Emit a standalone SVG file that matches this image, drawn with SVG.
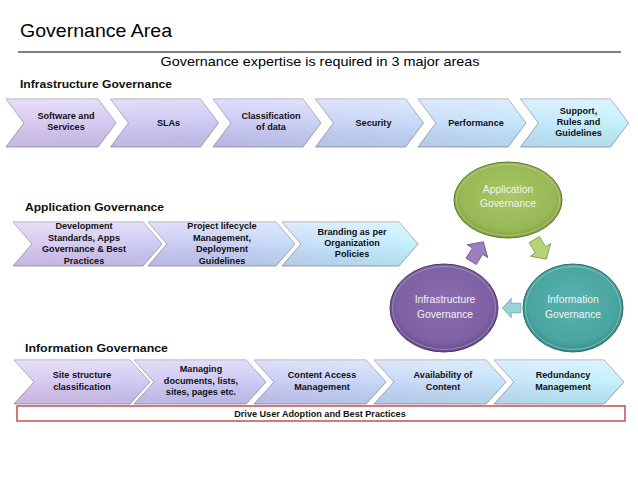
<svg xmlns="http://www.w3.org/2000/svg" xmlns:xlink="http://www.w3.org/1999/xlink" width="638" height="479" viewBox="0 0 638 479">
<defs>
<style>
.t{font-family:"Liberation Sans",Arial,sans-serif;fill:#000}
.cb{font-family:"Liberation Sans",Arial,sans-serif;font-weight:bold;font-size:9.1px;fill:#111;text-anchor:middle}
.hd{font-family:"Liberation Sans",Arial,sans-serif;font-weight:bold;font-size:11.5px;fill:#111}
.ch{stroke:#8c8ca4;stroke-width:0.8}
.sh{fill:url(#shine);stroke:none}
.el{font-family:"Liberation Sans",Arial,sans-serif;font-size:10.3px;fill:#f2f2f2;text-anchor:middle}
</style>
<linearGradient id="shine" x1="0" y1="0" x2="0" y2="1">
<stop offset="0" stop-color="#fff" stop-opacity="0.45"/>
<stop offset="0.5" stop-color="#fff" stop-opacity="0.1"/>
<stop offset="1" stop-color="#000" stop-opacity="0.06"/>
</linearGradient>
<linearGradient id="row1" gradientUnits="userSpaceOnUse" x1="8" y1="0" x2="628" y2="0">
<stop offset="0" stop-color="#d6c4ee"/>
<stop offset="0.35" stop-color="#c5c3f3"/>
<stop offset="0.65" stop-color="#c1d6f7"/>
<stop offset="1" stop-color="#bdf0fc"/>
</linearGradient>
<linearGradient id="row2" gradientUnits="userSpaceOnUse" x1="13" y1="0" x2="418" y2="0">
<stop offset="0" stop-color="#d6c4ee"/>
<stop offset="0.45" stop-color="#c4c7f4"/>
<stop offset="1" stop-color="#bdf0fc"/>
</linearGradient>
<linearGradient id="row3" gradientUnits="userSpaceOnUse" x1="15" y1="0" x2="625" y2="0">
<stop offset="0" stop-color="#d6c4ee"/>
<stop offset="0.35" stop-color="#c5c3f3"/>
<stop offset="0.65" stop-color="#c1d6f7"/>
<stop offset="1" stop-color="#bdf0fc"/>
</linearGradient>
<radialGradient id="gGreen" cx="0.5" cy="0.45" r="0.55">
<stop offset="0" stop-color="#a8c766"/>
<stop offset="0.8" stop-color="#98b855"/>
<stop offset="1" stop-color="#7f9d42"/>
</radialGradient>
<radialGradient id="gPurple" cx="0.5" cy="0.45" r="0.55">
<stop offset="0" stop-color="#8a6db0"/>
<stop offset="0.8" stop-color="#7e61a2"/>
<stop offset="1" stop-color="#654a88"/>
</radialGradient>
<radialGradient id="gTeal" cx="0.5" cy="0.45" r="0.55">
<stop offset="0" stop-color="#58b2ad"/>
<stop offset="0.8" stop-color="#4aa5a1"/>
<stop offset="1" stop-color="#368a86"/>
</radialGradient>
<path id="arrow" d="M-11,-6 H1 V-12 L12,0 L1,12 V6 H-11 Z"/>
</defs>
<rect width="638" height="479" fill="#fff"/>

<g id="header">
<text class="t" x="20" y="37" font-size="18.5" textLength="152" lengthAdjust="spacingAndGlyphs">Governance Area</text>
<line x1="18" y1="52" x2="621" y2="52" stroke="#000" stroke-width="1.2"/>
<text class="t" x="320" y="66" font-size="13" text-anchor="middle" textLength="319" lengthAdjust="spacingAndGlyphs">Governance expertise is required in 3 major areas</text>
<text class="hd" x="20" y="88" textLength="152" lengthAdjust="spacingAndGlyphs">Infrastructure Governance</text>
<text class="hd" x="25" y="211" textLength="139" lengthAdjust="spacingAndGlyphs">Application Governance</text>
<text class="hd" x="25" y="352" textLength="143" lengthAdjust="spacingAndGlyphs">Information Governance</text>
</g>

<!-- Infrastructure row: y 99-147, depth 18 -->
<g id="infra-software">
<path class="ch" fill="url(#row1)" d="M6,99 H98 L116,123 L98,147 H6 L24,123 Z"/>
<path class="sh" d="M6,99 H98 L116,123 L98,147 H6 L24,123 Z"/>
<text class="cb" x="66" y="119">Software and</text>
<text class="cb" x="66" y="130">Services</text>
</g>
<g id="infra-slas">
<path class="ch" fill="url(#row1)" d="M110.5,99 H200.5 L218.5,123 L200.5,147 H110.5 L128.5,123 Z"/>
<path class="sh" d="M110.5,99 H200.5 L218.5,123 L200.5,147 H110.5 L128.5,123 Z"/>
<text class="cb" x="168.5" y="126">SLAs</text>
</g>
<g id="infra-classification">
<path class="ch" fill="url(#row1)" d="M213,99 H303 L321,123 L303,147 H213 L231,123 Z"/>
<path class="sh" d="M213,99 H303 L321,123 L303,147 H213 L231,123 Z"/>
<text class="cb" x="271" y="119">Classification</text>
<text class="cb" x="271" y="130">of data</text>
</g>
<g id="infra-security">
<path class="ch" fill="url(#row1)" d="M315.5,99 H405.5 L423.5,123 L405.5,147 H315.5 L333.5,123 Z"/>
<path class="sh" d="M315.5,99 H405.5 L423.5,123 L405.5,147 H315.5 L333.5,123 Z"/>
<text class="cb" x="373.5" y="126">Security</text>
</g>
<g id="infra-performance">
<path class="ch" fill="url(#row1)" d="M418,99 H508 L526,123 L508,147 H418 L436,123 Z"/>
<path class="sh" d="M418,99 H508 L526,123 L508,147 H418 L436,123 Z"/>
<text class="cb" x="476" y="126">Performance</text>
</g>
<g id="infra-support">
<path class="ch" fill="url(#row1)" d="M520.5,99 H610.5 L628.5,123 L610.5,147 H520.5 L538.5,123 Z"/>
<path class="sh" d="M520.5,99 H610.5 L628.5,123 L610.5,147 H520.5 L538.5,123 Z"/>
<text class="cb" x="578.5" y="114">Support,</text>
<text class="cb" x="578.5" y="125">Rules and</text>
<text class="cb" x="578.5" y="136">Guidelines</text>
</g>

<!-- Application row: y 222-266, depth 19 -->
<g id="app-development">
<path class="ch" fill="url(#row2)" d="M13,222 H143 L162,244 L143,266 H13 L32,244 Z"/>
<path class="sh" d="M13,222 H143 L162,244 L143,266 H13 L32,244 Z"/>
<text class="cb" x="84" y="229">Development</text>
<text class="cb" x="84" y="240.5">Standards, Apps</text>
<text class="cb" x="84" y="252">Governance &amp; Best</text>
<text class="cb" x="84" y="263.5">Practices</text>
</g>
<g id="app-project">
<path class="ch" fill="url(#row2)" d="M148,222 H276 L295,244 L276,266 H148 L167,244 Z"/>
<path class="sh" d="M148,222 H276 L295,244 L276,266 H148 L167,244 Z"/>
<text class="cb" x="222" y="229">Project lifecycle</text>
<text class="cb" x="222" y="240.5">Management,</text>
<text class="cb" x="222" y="252">Deployment</text>
<text class="cb" x="222" y="263.5">Guidelines</text>
</g>
<g id="app-branding">
<path class="ch" fill="url(#row2)" d="M282,222 H399 L418,244 L399,266 H282 L301,244 Z"/>
<path class="sh" d="M282,222 H399 L418,244 L399,266 H282 L301,244 Z"/>
<text class="cb" x="352" y="235">Branding as per</text>
<text class="cb" x="352" y="246">Organization</text>
<text class="cb" x="352" y="257">Policies</text>
</g>

<!-- Information row: y 360-404, depth 20 -->
<g id="info-site">
<path class="ch" fill="url(#row3)" d="M14,360 H130 L150,382 L130,404 H14 L34,382 Z"/>
<path class="sh" d="M14,360 H130 L150,382 L130,404 H14 L34,382 Z"/>
<text class="cb" x="82" y="378">Site structure</text>
<text class="cb" x="82" y="389.5">classification</text>
</g>
<g id="info-managing">
<path class="ch" fill="url(#row3)" d="M134,360 H246 L266,382 L246,404 H134 L154,382 Z"/>
<path class="sh" d="M134,360 H246 L266,382 L246,404 H134 L154,382 Z"/>
<text class="cb" x="201" y="372">Managing</text>
<text class="cb" x="201" y="383.5">documents, lists,</text>
<text class="cb" x="201" y="395">sites, pages etc.</text>
</g>
<g id="info-content">
<path class="ch" fill="url(#row3)" d="M254,360 H366 L386,382 L366,404 H254 L274,382 Z"/>
<path class="sh" d="M254,360 H366 L386,382 L366,404 H254 L274,382 Z"/>
<text class="cb" x="322" y="378">Content Access</text>
<text class="cb" x="322" y="389.5">Management</text>
</g>
<g id="info-availability">
<path class="ch" fill="url(#row3)" d="M374,360 H486 L506,382 L486,404 H374 L394,382 Z"/>
<path class="sh" d="M374,360 H486 L506,382 L486,404 H374 L394,382 Z"/>
<text class="cb" x="443" y="378">Availability of</text>
<text class="cb" x="443" y="389.5">Content</text>
</g>
<g id="info-redundancy">
<path class="ch" fill="url(#row3)" d="M494,360 H604 L624,382 L604,404 H494 L514,382 Z"/>
<path class="sh" d="M494,360 H604 L624,382 L604,404 H494 L514,382 Z"/>
<text class="cb" x="563" y="378">Redundancy</text>
<text class="cb" x="563" y="389.5">Management</text>
</g>

<g id="adoption-bar">
<rect x="17" y="406" width="608" height="15" fill="#fff" stroke="#c0504d" stroke-width="1.5"/>
<text class="cb" x="320" y="417">Drive User Adoption and Best Practices</text>
</g>

<!-- Cycle -->
<g id="cycle-application">
<ellipse cx="508" cy="200" rx="54" ry="38" fill="url(#gGreen)" stroke="#5f7a2c" stroke-width="1"/>
<ellipse cx="508" cy="200" rx="51.5" ry="35.5" fill="none" stroke="#c4d99a" stroke-width="1" stroke-opacity="0.6"/>
<text class="el" x="508" y="193">Application</text>
<text class="el" x="508" y="207">Governance</text>
</g>
<g id="cycle-infrastructure">
<ellipse cx="444" cy="308" rx="54" ry="44" fill="url(#gPurple)" stroke="#4f3a6c" stroke-width="1"/>
<ellipse cx="444" cy="308" rx="51.5" ry="41.5" fill="none" stroke="#b9a6d4" stroke-width="1" stroke-opacity="0.6"/>
<text class="el" x="445" y="303">Infrastructure</text>
<text class="el" x="445" y="318">Governance</text>
</g>
<g id="cycle-information">
<ellipse cx="573" cy="308" rx="50" ry="44" fill="url(#gTeal)" stroke="#2d6f6c" stroke-width="1"/>
<ellipse cx="573" cy="308" rx="47.5" ry="41.5" fill="none" stroke="#a5d8d5" stroke-width="1" stroke-opacity="0.6"/>
<text class="el" x="573" y="303">Information</text>
<text class="el" x="573" y="318">Governance</text>
</g>

<g id="connectors">
<use xlink:href="#arrow" transform="translate(477,252) rotate(-58)" fill="#9a80bf" stroke="#6a5290" stroke-width="0.8"/>
<use xlink:href="#arrow" transform="translate(540,249) rotate(58)" fill="#b8d27a" stroke="#7f9d42" stroke-width="0.8"/>
<use xlink:href="#arrow" transform="translate(512,308) rotate(180) scale(0.8)" fill="#9ad3d6" stroke="#4a9a98" stroke-width="0.8"/>
</g>
</svg>
